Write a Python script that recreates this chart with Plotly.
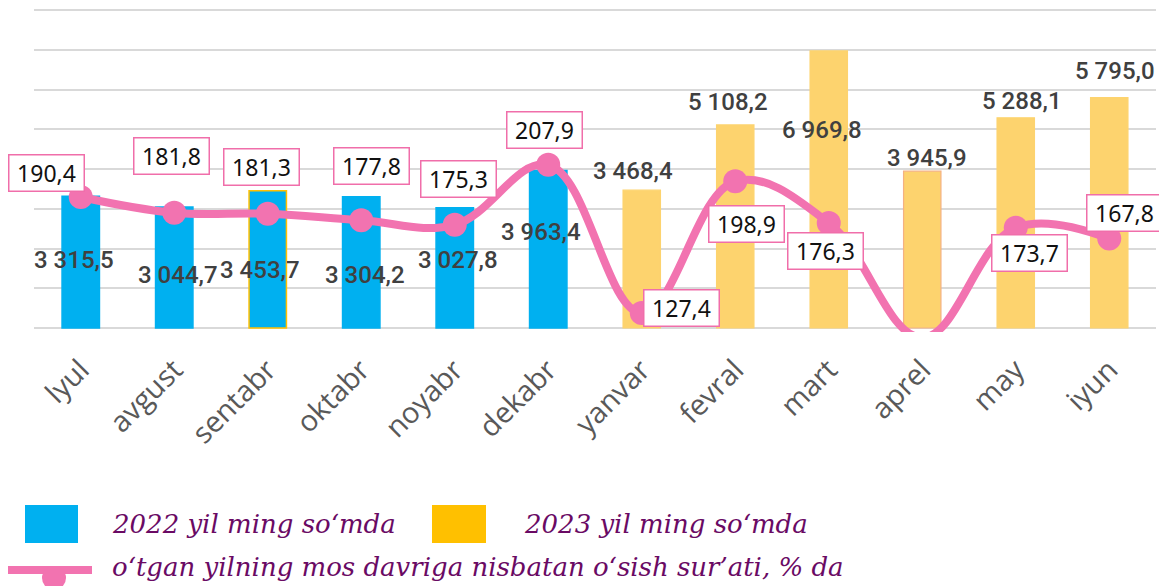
import plotly.graph_objects as go

months = ["lyul", "avgust", "sentabr", "oktabr", "noyabr", "dekabr",
          "yanvar", "fevral", "mart", "aprel", "may", "iyun"]
values_2022 = [3315.5, 3044.7, 3453.7, 3304.2, 3027.8, 3963.4]
values_2023 = [3468.4, 5108.2, 6969.8, 3945.9, 5288.1, 5795.0]
growth = [190.4, 181.8, 181.3, 177.8, 175.3, 207.9,
          127.4, 198.9, 176.3, 114.0, 173.7, 167.8]
growth_labelled = [True] * 9 + [False] + [True] * 2

name_2022 = "2022 yil ming so‘mda"
name_2023 = "2023 yil ming so‘mda"
name_growth = "o‘tgan yilning mos davriga nisbatan o‘sish sur’ati, % da"

# label offsets (pixels) for value labels and growth boxes
bar_label_shift = [(-7, -64), (4, -68), (-8, -79), (4, -78), (3, -52), (-7, -62),
                   (-9, 19), (-7, 23), (-7, -79), (5, 13), (6, 17), (6, 27)]
growth_shift = [(-34, 24), (-3, 57), (-6, 47), (10, 54), (4, 46), (-4, 35),
                (40, 5), (11, -43), (-3, -28), (0, 0), (14, -25), (15, 26)]

L, R, T, B = 34, 1156, 8, 332
W, H = R - L, B - T


def px(x):
    return (x - L) / W


def py(y):
    return (B - y) / H


def fmt(v):
    s = f"{v:,.1f}"
    return s.replace(",", " ").replace(".", ",")


BLUE = "#00B0F0"
YEL = "#FDD36E"
PINK = "#F273B0"

fig = go.Figure()
n22 = len(values_2022)
fig.add_trace(go.Bar(
    x=months[:n22], y=values_2022, name=name_2022, width=0.4,
    marker=dict(color=BLUE,
                line=dict(color=[BLUE, BLUE, "#FFC000", BLUE, BLUE, BLUE], width=1.5)),
    showlegend=False, hoverinfo="skip"))
fig.add_trace(go.Bar(
    x=months[n22:], y=values_2023, name=name_2023, width=0.4,
    marker=dict(color=YEL,
                line=dict(color=[YEL, YEL, YEL, "#F4B183", YEL, YEL], width=1.2)),
    showlegend=False, hoverinfo="skip"))
fig.add_trace(go.Scatter(
    x=months, y=growth, name=name_growth, yaxis="y2", mode="lines+markers",
    line=dict(color=PINK, width=8, shape="spline", smoothing=1.1),
    marker=dict(color=PINK, opacity=1, line=dict(width=0),
                size=[0 if not f else 24 for f in growth_labelled]),
    showlegend=False, hoverinfo="skip"))

annotations = []
all_bars = values_2022 + values_2023
for i, (m, v) in enumerate(zip(months, all_bars)):
    xs, ys = bar_label_shift[i]
    annotations.append(dict(
        x=m, y=v, xref="x", yref="y", text=fmt(v), showarrow=False,
        xshift=xs, yshift=ys,
        font=dict(family="Roboto", size=24, weight=500, color="#404040")))

for i, (m, g) in enumerate(zip(months, growth)):
    if not growth_labelled[i]:
        continue
    xs, ys = growth_shift[i]
    annotations.append(dict(
        x=m, y=g, xref="x", yref="y2", text=fmt(g), showarrow=False,
        xshift=xs, yshift=ys, width=72, height=33, borderpad=1,
        bgcolor="white", bordercolor="#F06EAA", borderwidth=1.5,
        font=dict(family="Noto Sans", size=23, color="#111111")))

# custom legend
legend_font = dict(family="DejaVu Serif", size=26, color="#6A0A64")
shapes = [
    dict(type="rect", xref="paper", yref="paper", x0=px(25), x1=px(78), y0=py(543), y1=py(505),
         fillcolor=BLUE, line=dict(width=0)),
    dict(type="rect", xref="paper", yref="paper", x0=px(432), x1=px(486), y0=py(543), y1=py(505),
         fillcolor="#FFC000", line=dict(width=0)),
    dict(type="line", xref="paper", yref="paper", x0=px(8), x1=px(92), y0=py(570), y1=py(570),
         line=dict(color=PINK, width=8)),
    dict(type="circle", xref="paper", yref="paper", x0=px(42), x1=px(66), y0=py(590), y1=py(566),
         fillcolor=PINK, line=dict(width=0)),
]
annotations += [
    dict(x=px(110), y=py(524), xref="paper", yref="paper", text=f"<i>{name_2022}</i>",
         showarrow=False, xanchor="left", yanchor="middle", font=legend_font),
    dict(x=px(522), y=py(524), xref="paper", yref="paper", text=f"<i>{name_2023}</i>",
         showarrow=False, xanchor="left", yanchor="middle", font=legend_font),
    dict(x=px(110), y=py(567), xref="paper", yref="paper", text=f"<i>{name_growth}</i>",
         showarrow=False, xanchor="left", yanchor="middle", font=legend_font),
]

fig.update_layout(
    width=1159, height=586,
    margin=dict(l=L, r=1159 - R, t=T, b=586 - B, autoexpand=False),
    paper_bgcolor="white", plot_bgcolor="white",
    barmode="overlay", hovermode=False,
    xaxis=dict(type="category", categoryorder="array", categoryarray=months,
               range=[-0.5, len(months) - 0.5],
               tickangle=-45, tickfont=dict(family="Open Sans", size=29, color="#595959"),
               ticklabelstandoff=14,
               showgrid=False, zeroline=False, showline=False, ticks="", automargin=False),
    yaxis=dict(range=[-100, 8050], tick0=0, dtick=1000, showticklabels=False,
               showgrid=True, gridcolor="#D9D9D9", gridwidth=1.5, zeroline=False,
               automargin=False),
    yaxis2=dict(range=[117.07, 293.06], overlaying="y", side="right",
                showticklabels=False, showgrid=False, zeroline=False, automargin=False),
    annotations=annotations, shapes=shapes,
)

fig.write_html("out.html", config={"displayModeBar": False},
               post_script="document.body.style.margin='0';document.body.style.overflow='hidden';")
